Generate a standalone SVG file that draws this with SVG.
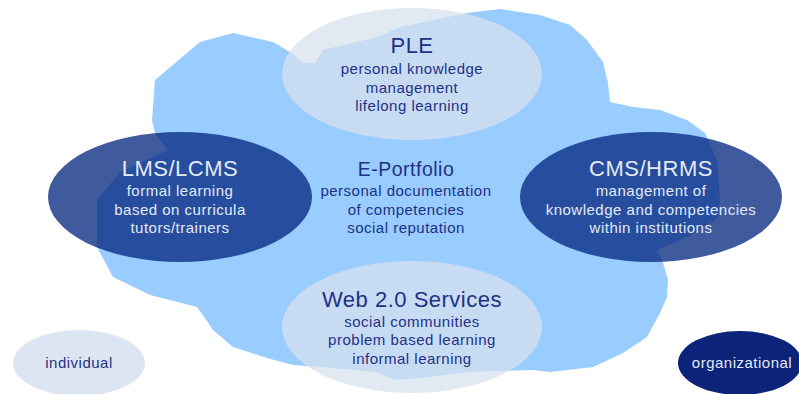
<svg xmlns="http://www.w3.org/2000/svg" width="799" height="394" viewBox="0 0 799 394">
  <style>
    text { font-family: "Liberation Sans", Arial, sans-serif; text-anchor: middle; letter-spacing: 0.5px; }
    .title { font-size: 22px; }
    .sub { font-size: 15px; }
    .navy { fill: #1E3186; }
    .pale { fill: #E4EAF4; }
    .light-ell { fill: #D7E2EF; fill-opacity: 0.75; }
    .dark-ell { fill: #00237E; fill-opacity: 0.75; }
  </style>

  <rect width="799" height="394" fill="#FFFFFF"/>

  <!-- the cloud that holds the e-portfolio -->
  <g id="cloud">
    <path fill="#99CCFF" d="M155,80 L200,42 L233,33 L273,42 L290,52 L303,63 L315,63 L323,50 L377,37 L400,27 L467,13 L500,9 L540,15 L570,25 L587,40 L603,62 L608,83 L610,102 L633,107 L660,110 L687,120 L705,133 L717,160 L720,200 L718,218 L690,236 L657,250 L663,263 L668,280 L667,297 L660,313 L647,337 L623,353 L593,367 L550,372 L533,370 L470,372 L420,378 L395,380 L375,372 L333,368 L293,365 L267,358 L233,347 L213,330 L205,318 L197,307 L150,295 L113,277 L97,247 L97,200 L120,172 L168,150 L155,133 L152,120 Z"/>
  </g>

  <g id="connectors"/>

  <g id="ple">
    <ellipse class="light-ell" cx="412" cy="74" rx="130" ry="66"/>
    <text class="title navy" x="412" y="53">PLE</text>
    <text class="sub navy" x="412" y="74">personal knowledge</text>
    <text class="sub navy" x="412" y="92.5">management</text>
    <text class="sub navy" x="412" y="111">lifelong learning</text>
  </g>

  <g id="lms">
    <ellipse class="dark-ell" cx="180" cy="197" rx="132" ry="65"/>
    <text class="title pale" x="180" y="176">LMS/LCMS</text>
    <text class="sub pale" x="180" y="196">formal learning</text>
    <text class="sub pale" x="180" y="214.5">based on curricula</text>
    <text class="sub pale" x="180" y="233">tutors/trainers</text>
  </g>

  <g id="eportfolio">
    <text class="navy" x="406" y="176" style="font-size:19.5px">E-Portfolio</text>
    <text class="sub navy" x="406" y="196">personal documentation</text>
    <text class="sub navy" x="406" y="214.5">of competencies</text>
    <text class="sub navy" x="406" y="233">social reputation</text>
  </g>

  <g id="cms">
    <ellipse class="dark-ell" cx="651" cy="197" rx="131" ry="65"/>
    <text class="title pale" x="651" y="176">CMS/HRMS</text>
    <text class="sub pale" x="651" y="196">management of</text>
    <text class="sub pale" x="651" y="214.5">knowledge and competencies</text>
    <text class="sub pale" x="651" y="233">within institutions</text>
  </g>

  <g id="web">
    <ellipse class="light-ell" cx="412" cy="327" rx="130" ry="66"/>
    <text class="title navy" x="412" y="307">Web 2.0 Services</text>
    <text class="sub navy" x="412" y="326.5">social communities</text>
    <text class="sub navy" x="412" y="345">problem based learning</text>
    <text class="sub navy" x="412" y="363.5">informal learning</text>
  </g>

  <g id="individual">
    <ellipse cx="79" cy="363" rx="66" ry="33" fill="#DCE6F2"/>
    <text class="sub navy" x="79" y="368">individual</text>
  </g>

  <g id="organizational">
    <ellipse cx="740" cy="363" rx="62" ry="32" fill="#0B2379"/>
    <text class="sub pale" x="742" y="368">organizational</text>
  </g>
</svg>
